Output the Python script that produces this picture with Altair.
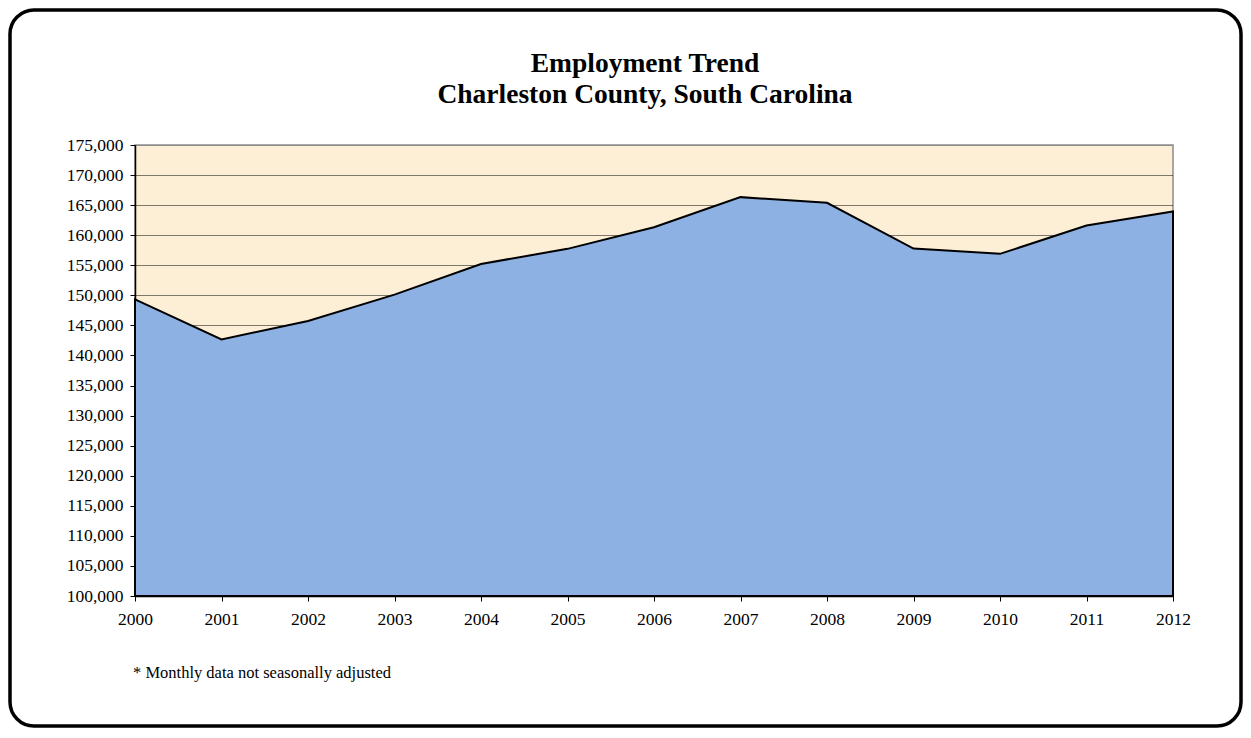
import altair as alt
import pandas as pd

years = [2000, 2001, 2002, 2003, 2004, 2005, 2006, 2007, 2008, 2009, 2010, 2011, 2012]
employment = [149335, 142670, 145720, 150110, 155220, 157730, 161330,
              166330, 165390, 157780, 156900, 161600, 163950]
y_ticks = list(range(100000, 175001, 5000))
title_lines = ["Employment Trend", "Charleston County, South Carolina"]
footnote = "* Monthly data not seasonally adjusted"

df = pd.DataFrame({"year": years, "employment": employment})
one = pd.DataFrame({"k": [0]})

FONT = "Liberation Serif"
W, H = 1038, 451

x_enc = alt.X("year:Q", scale=alt.Scale(domain=[2000, 2012], nice=False, zero=False),
              axis=alt.Axis(values=years, format="d", title=None, grid=False,
                            labelFontSize=17.5, labelPadding=9, labelFlush=False))
y_enc = alt.Y("employment:Q", scale=alt.Scale(domain=[100000, 175000], nice=False, zero=False),
              axis=alt.Axis(values=y_ticks, format=",.0f", title=None, grid=True,
                            labelFontSize=17.5, labelPadding=7, labelFlush=False,
                            gridColor={"condition": {"test": "datum.value >= 175000", "value": "#8c8c8c"}, "value": "black"},
                            gridDash={"condition": {"test": "datum.value >= 175000", "value": []}, "value": [1, 1]}))

area = alt.Chart(df).mark_area(color="#8DB1E2", stroke="black", strokeWidth=2,
                               strokeJoin="miter").encode(
    x=x_enc, y=y_enc, y2=alt.datum(100000))

border = alt.Chart(one).mark_rect(fill=None, filled=False, stroke="black", strokeWidth=3.5,
                                  cornerRadius=24).encode(
    x=alt.value(-125), x2=alt.value(1106), y=alt.value(-135), y2=alt.value(581))

t1 = alt.Chart(one).mark_text(text=title_lines[0], font=FONT, fontSize=27.5, fontWeight="bold",
                              align="center", baseline="alphabetic", color="black").encode(
    x=alt.value(510), y=alt.value(-73))
t2 = alt.Chart(one).mark_text(text=title_lines[1], font=FONT, fontSize=27.5, fontWeight="bold",
                              align="center", baseline="alphabetic", color="black").encode(
    x=alt.value(510), y=alt.value(-42))
fn = alt.Chart(one).mark_text(text=footnote, font=FONT, fontSize=16.5,
                              align="left", baseline="alphabetic", color="black").encode(
    x=alt.value(-2), y=alt.value(533))

chart = alt.layer(area, border, t1, t2, fn).properties(
    width=W, height=H, padding=0, background="white"
).configure_view(
    fill="#FCEFD6", stroke="#8c8c8c", strokeWidth=1.5
).configure_axis(
    labelFont=FONT, labelColor="black", tickColor="black", domainColor="black",
    tickSize=5, domainWidth=1.5, tickWidth=1, gridWidth=1
)

chart.save("out.html", embed_options={"renderer": "svg", "actions": False})
